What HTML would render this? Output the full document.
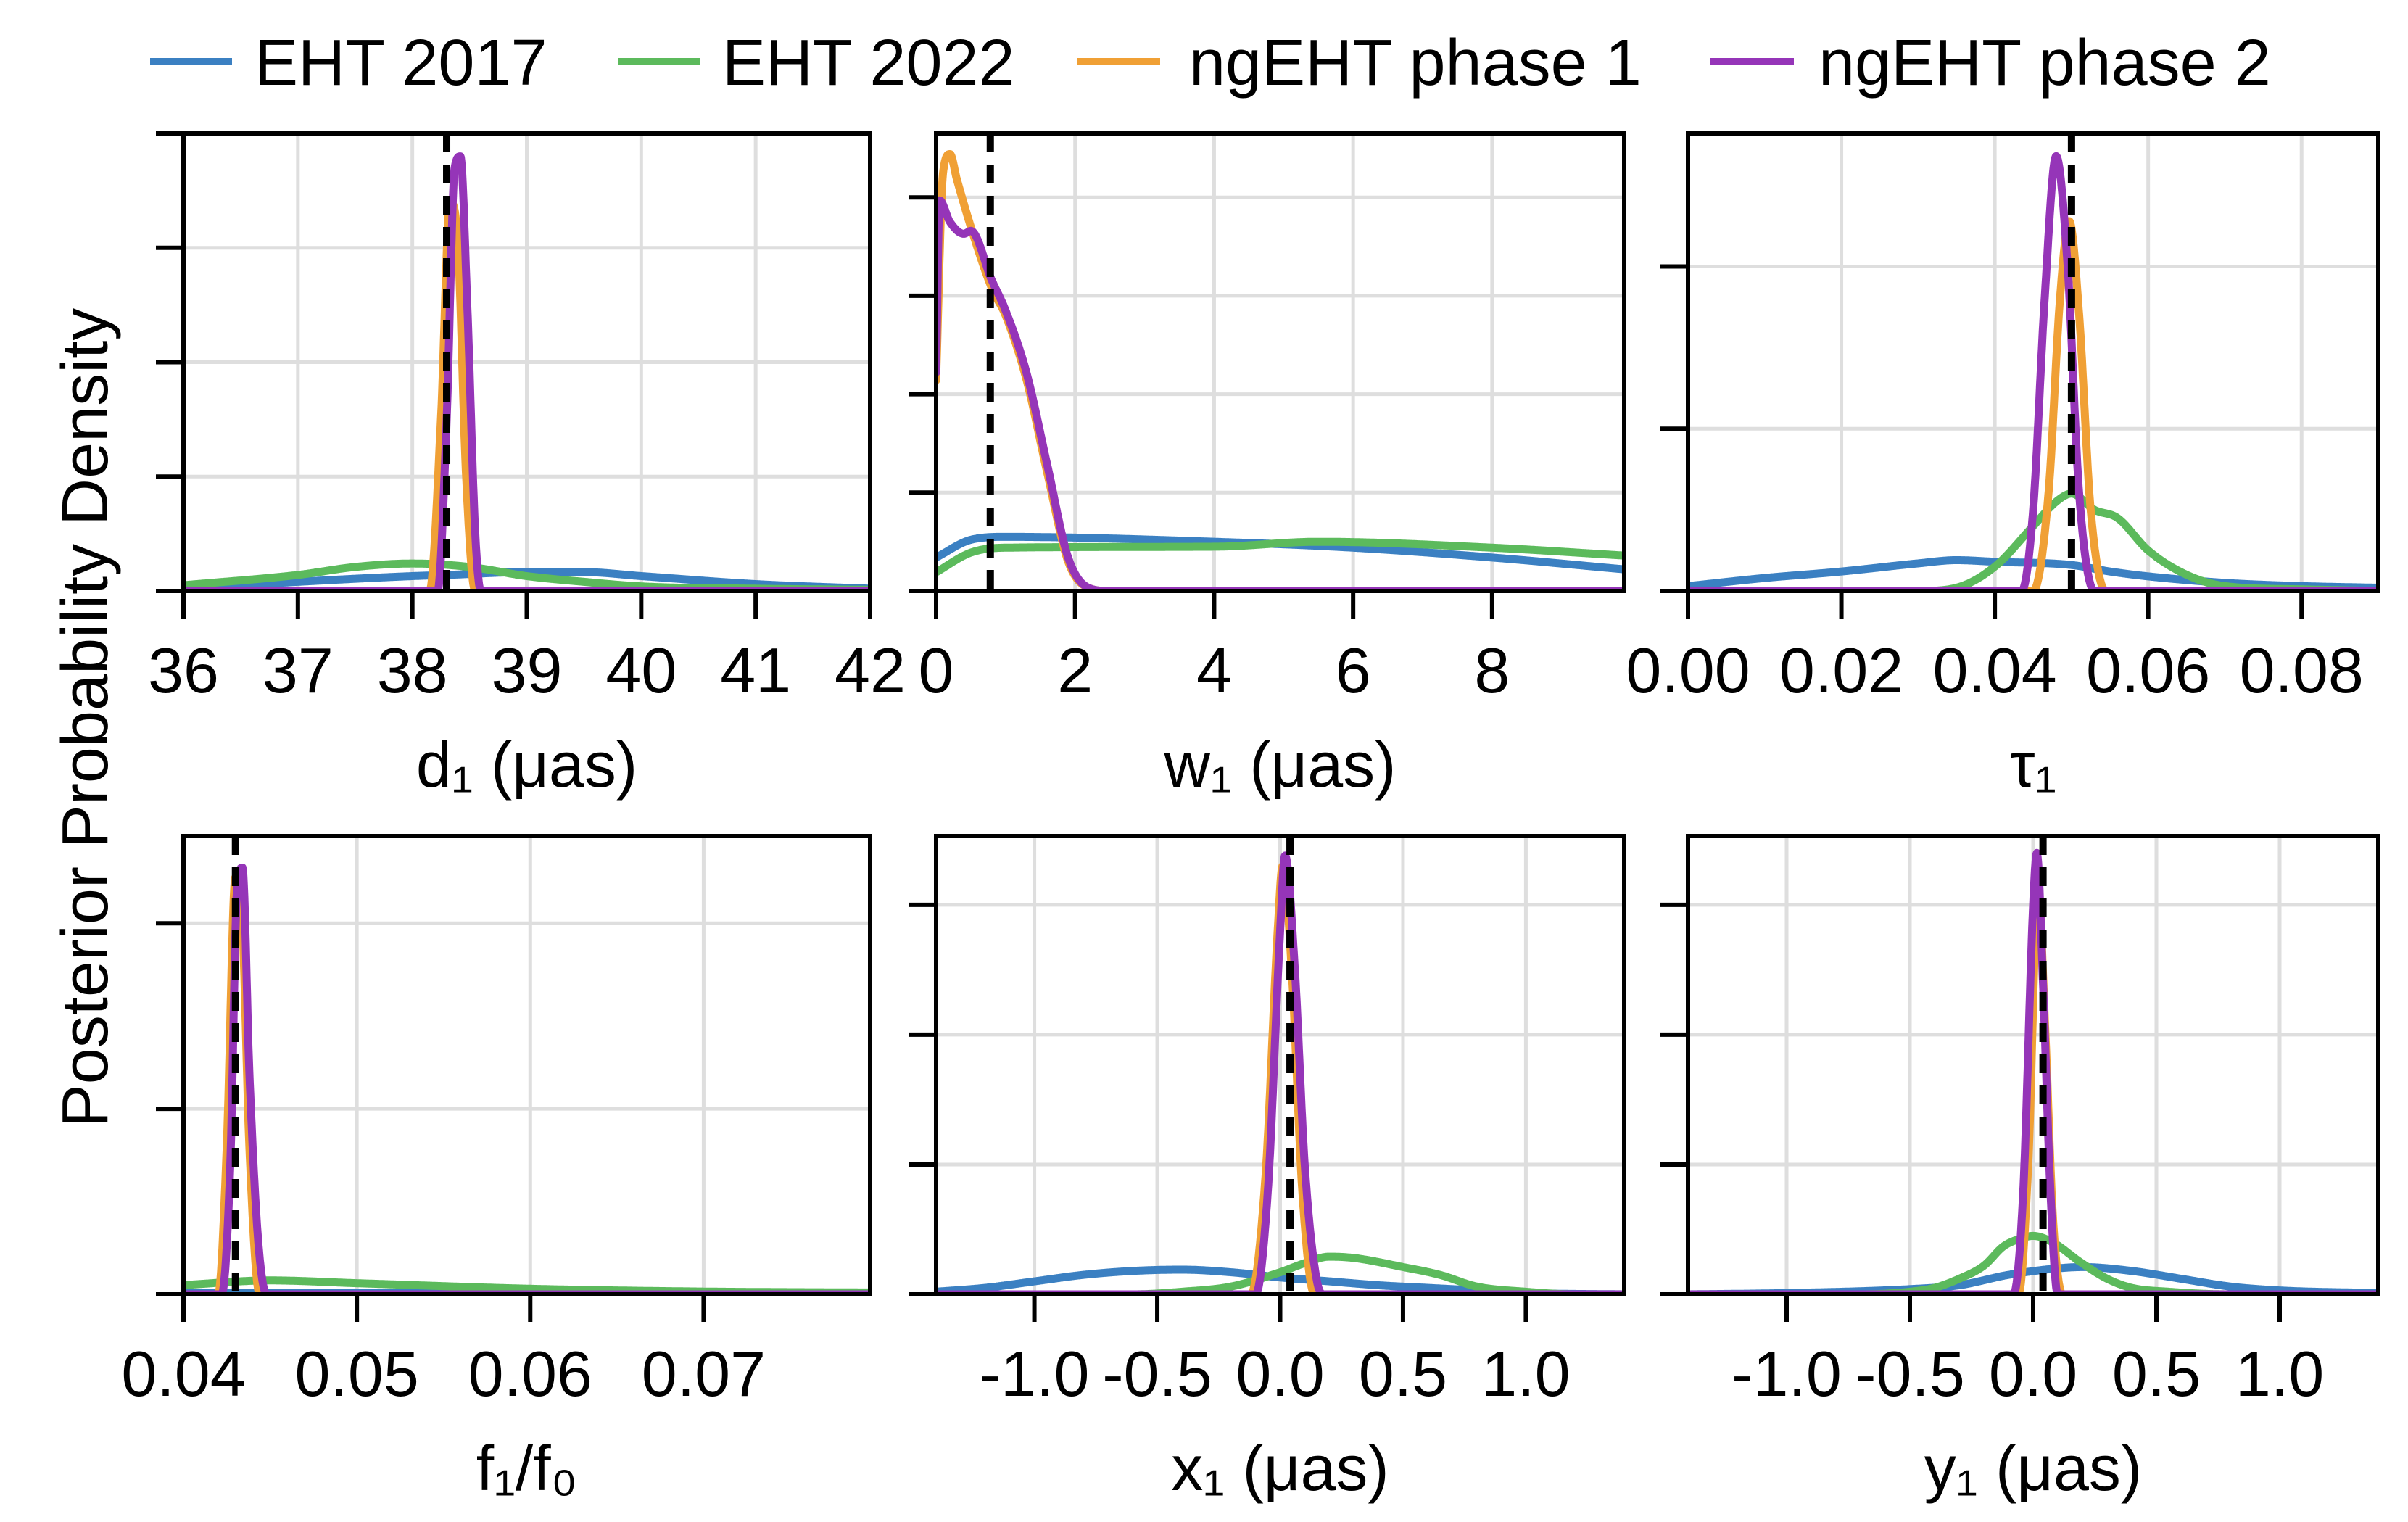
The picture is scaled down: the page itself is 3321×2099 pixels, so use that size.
<!DOCTYPE html>
<html><head><meta charset="utf-8"><style>
html,body{margin:0;padding:0;background:#fff;}
svg{display:block;font-family:"Liberation Sans",sans-serif;}
</style></head><body>
<svg id="fig" width="3321" height="2099" viewBox="0 0 3321 2099" xmlns="http://www.w3.org/2000/svg">
<g id="legend" font-size="90">
 <g><line x1="207" y1="85" x2="320" y2="85" stroke="#3b80c2" stroke-width="10"/><text x="351" y="117">EHT 2017</text></g>
 <g><line x1="852" y1="85" x2="965" y2="85" stroke="#5cba5c" stroke-width="10"/><text x="996" y="117">EHT 2022</text></g>
 <g><line x1="1486" y1="85" x2="1600" y2="85" stroke="#f0a035" stroke-width="10"/><text x="1640" y="117">ngEHT phase 1</text></g>
 <g><line x1="2359" y1="85" x2="2474" y2="85" stroke="#9535b8" stroke-width="10"/><text x="2508" y="117">ngEHT phase 2</text></g>
</g>
<text font-size="90" text-anchor="middle" transform="translate(148,990) rotate(-90)">Posterior Probability Density</text>
</svg>
<script>
// ---- Panel data (x values, density in tick units) ----
const p1BlueX=[36,37,38,38.3,39,39.5,40,41,42];
const p1BlueY=[0.02,0.08,0.13,0.14,0.165,0.165,0.13,0.06,0.02];
const p1GreenX=[36,37,37.5,38,38.5,39,39.5,40,41,42];
const p1GreenY=[0.05,0.14,0.21,0.24,0.21,0.13,0.08,0.04,0.02,0.01];
const p1OrangeX=[36,38.15,38.25,38.33,38.4,38.47,38.55,42];
const p1OrangeY=[0,0,1.5,3.4,3.0,1.0,0,0];
const p1PurpleX=[36,38.22,38.3,38.37,38.42,38.48,38.55,38.6,42];
const p1PurpleY=[0,0,1.5,3.7,3.8,2.5,0.5,0,0];

const p2BlueX=[0,0.5,1,4,6,8,9.9];
const p2BlueY=[0.34,0.52,0.55,0.5,0.44,0.34,0.22];
const p2GreenX=[0,0.5,1,4,5.5,8,9.9];
const p2GreenY=[0.19,0.39,0.44,0.45,0.5,0.44,0.36];
const p2OrangeX=[0,0.1,0.2,0.3,0.5,0.8,1.0,1.3,1.6,1.9,2.2,2.5,9.9];
const p2OrangeY=[2.14,4.25,4.44,4.18,3.7,3.08,2.8,2.15,1.2,0.3,0.03,0,0];
const p2PurpleX=[0,0.05,0.2,0.4,0.5,0.8,1.0,1.3,1.6,1.9,2.2,2.5,9.9];
const p2PurpleY=[2.22,3.97,3.75,3.63,3.66,3.16,2.85,2.22,1.28,0.34,0.03,0,0];

const p3BlueX=[0,0.01,0.02,0.03,0.035,0.04,0.05,0.055,0.06,0.07,0.08,0.09];
const p3BlueY=[0.03,0.08,0.12,0.17,0.19,0.18,0.16,0.12,0.09,0.05,0.03,0.02];
const p3GreenX=[0,0.03,0.035,0.04,0.045,0.048,0.05,0.053,0.056,0.06,0.065,0.07,0.08,0.09];
const p3GreenY=[0,0,0.02,0.15,0.4,0.55,0.6,0.5,0.45,0.25,0.1,0.03,0.01,0];
const p3OrangeX=[0,0.045,0.047,0.0485,0.0497,0.051,0.0525,0.0545,0.09];
const p3OrangeY=[0,0,0.6,1.8,2.28,1.7,0.5,0,0];
const p3PurpleX=[0,0.0435,0.045,0.0465,0.048,0.0495,0.051,0.053,0.09];
const p3PurpleY=[0,0,0.5,1.8,2.68,2.0,0.6,0,0];

const p4BlueX=[0.04,0.06,0.0796];
const p4BlueY=[0.01,0.005,0.003];
const p4GreenX=[0.04,0.045,0.05,0.06,0.07,0.0796];
const p4GreenY=[0.05,0.075,0.06,0.03,0.015,0.01];
const p4OrangeX=[0.04,0.042,0.0425,0.043,0.0434,0.0438,0.0444,0.0796];
const p4OrangeY=[0,0,0.8,2.25,2.0,0.8,0,0];
const p4PurpleX=[0.04,0.0422,0.0427,0.0431,0.0434,0.0438,0.0443,0.0448,0.0796];
const p4PurpleY=[0,0,0.7,2.2,2.3,1.2,0.3,0,0];

const p5BlueX=[-1.4,-1.2,-1.0,-0.8,-0.6,-0.4,-0.2,0,0.2,0.4,0.6,0.8,1.0,1.4];
const p5BlueY=[0.02,0.05,0.1,0.15,0.18,0.19,0.17,0.13,0.1,0.07,0.05,0.03,0.01,0];
const p5GreenX=[-1.4,-0.6,-0.4,-0.2,0,0.1,0.2,0.3,0.5,0.65,0.8,1.0,1.2,1.4];
const p5GreenY=[0,0,0.02,0.06,0.17,0.24,0.29,0.28,0.21,0.15,0.06,0.02,0,0];
const p5OrangeX=[-1.4,-0.12,-0.06,-0.01,0.01,0.05,0.09,0.14,1.4];
const p5OrangeY=[0,0,0.9,2.8,3.3,2.4,0.8,0,0];
const p5PurpleX=[-1.4,-0.1,-0.05,0,0.02,0.06,0.1,0.15,0.18,1.4];
const p5PurpleY=[0,0,0.8,2.8,3.38,2.5,1.0,0.1,0,0];

const p6BlueX=[-1.4,-1.0,-0.5,-0.3,-0.1,0.1,0.2,0.4,0.6,0.8,1.0,1.4];
const p6BlueY=[0,0.01,0.04,0.07,0.15,0.2,0.21,0.18,0.12,0.06,0.03,0.01];
const p6GreenX=[-1.4,-0.7,-0.5,-0.4,-0.3,-0.2,-0.12,-0.05,0,0.08,0.19,0.3,0.4,0.55,0.8,1.4];
const p6GreenY=[0,0,0.02,0.05,0.12,0.22,0.37,0.43,0.45,0.4,0.25,0.12,0.05,0.02,0,0];
const p6OrangeX=[-1.4,-0.06,-0.02,0.02,0.05,0.08,0.12,1.4];
const p6OrangeY=[0,0,1.0,3.1,2.0,0.6,0,0];
const p6PurpleX=[-1.4,-0.08,-0.04,0,0.015,0.04,0.07,0.1,1.4];
const p6PurpleY=[0,0,0.8,3.0,3.4,2.4,0.8,0,0];

const xTicks1=[36,37,38,39,40,41,42];
const xTickLabels1=["36","37","38","39","40","41","42"];
const xTicks2=[0,2,4,6,8];
const xTickLabels2=["0","2","4","6","8"];
const xTicks3=[0,0.02,0.04,0.06,0.08];
const xTickLabels3=["0.00","0.02","0.04","0.06","0.08"];
const xTicks4=[0.04,0.05,0.06,0.07];
const xTickLabels4=["0.04","0.05","0.06","0.07"];
const xTicks5=[-1,-0.5,0,0.5,1];
const xTickLabels5=["-1.0","-0.5","0.0","0.5","1.0"];
const truthValues=[38.3,0.78,0.05,0.043,0.04,0.04];

const NS="http://www.w3.org/2000/svg";
const svg=document.getElementById('fig');
const COLORS={blue:"#3b80c2",green:"#5cba5c",orange:"#f0a035",purple:"#9535b8"};

const panels=[
 {id:"d1",x0:253,x1:1200,y0:184,y1:815,xmin:36,xmax:42,ymax:4.0,yt:[1,2,3,4],ticks:xTicks1,labels:xTickLabels1,title:"d₁ (μas)",
  s:[[p1BlueX,p1BlueY,'blue'],[p1GreenX,p1GreenY,'green'],[p1OrangeX,p1OrangeY,'orange'],[p1PurpleX,p1PurpleY,'purple']]},
 {id:"w1",x0:1291,x1:2240,y0:184,y1:815,xmin:0,xmax:9.9,ymax:4.65,yt:[1,2,3,4],ticks:xTicks2,labels:xTickLabels2,title:"w₁ (μas)",
  s:[[p2BlueX,p2BlueY,'blue'],[p2GreenX,p2GreenY,'green'],[p2OrangeX,p2OrangeY,'orange'],[p2PurpleX,p2PurpleY,'purple']]},
 {id:"tau1",x0:2328,x1:3280,y0:184,y1:815,xmin:0,xmax:0.09,ymax:2.82,yt:[1,2],ticks:xTicks3,labels:xTickLabels3,title:"τ₁",
  s:[[p3BlueX,p3BlueY,'blue'],[p3GreenX,p3GreenY,'green'],[p3OrangeX,p3OrangeY,'orange'],[p3PurpleX,p3PurpleY,'purple']]},
 {id:"f1f0",x0:253,x1:1200,y0:1153,y1:1785,xmin:0.04,xmax:0.0796,ymax:2.47,yt:[1,2],ticks:xTicks4,labels:xTickLabels4,title:"f₁/f₀",
  s:[[p4BlueX,p4BlueY,'blue'],[p4GreenX,p4GreenY,'green'],[p4OrangeX,p4OrangeY,'orange'],[p4PurpleX,p4PurpleY,'purple']]},
 {id:"x1",x0:1291,x1:2240,y0:1153,y1:1785,xmin:-1.4,xmax:1.4,ymax:3.53,yt:[1,2,3],ticks:xTicks5,labels:xTickLabels5,title:"x₁ (μas)",
  s:[[p5BlueX,p5BlueY,'blue'],[p5GreenX,p5GreenY,'green'],[p5OrangeX,p5OrangeY,'orange'],[p5PurpleX,p5PurpleY,'purple']]},
 {id:"y1",x0:2328,x1:3280,y0:1153,y1:1785,xmin:-1.4,xmax:1.4,ymax:3.53,yt:[1,2,3],ticks:xTicks5,labels:xTickLabels5,title:"y₁ (μas)",
  s:[[p6BlueX,p6BlueY,'blue'],[p6GreenX,p6GreenY,'green'],[p6OrangeX,p6OrangeY,'orange'],[p6PurpleX,p6PurpleY,'purple']]}
];

function mk(tag,attrs,parent){const e=document.createElementNS(NS,tag);for(const k in attrs)e.setAttribute(k,attrs[k]);parent.appendChild(e);return e;}
// monotone cubic (Fritsch-Carlson) interpolation in data space
function monotone(xs,ys){
 const n=xs.length,d=[],m=[];
 for(let i=0;i<n-1;i++)d.push((ys[i+1]-ys[i])/(xs[i+1]-xs[i]));
 m[0]=d[0];m[n-1]=d[n-2];
 for(let i=1;i<n-1;i++)m[i]=(d[i-1]*d[i]<=0)?0:(d[i-1]+d[i])/2;
 for(let i=0;i<n-1;i++){
  if(d[i]===0){m[i]=0;m[i+1]=0;continue;}
  const a=m[i]/d[i],b=m[i+1]/d[i],s=a*a+b*b;
  if(s>9){const t=3/Math.sqrt(s);m[i]=t*a*d[i];m[i+1]=t*b*d[i];}
 }
 return function(x){
  let i=0;while(i<n-2&&x>xs[i+1])i++;
  const h=xs[i+1]-xs[i],t=(x-xs[i])/h,t2=t*t,t3=t2*t;
  return (2*t3-3*t2+1)*ys[i]+(t3-2*t2+t)*h*m[i]+(-2*t3+3*t2)*ys[i+1]+(t3-t2)*h*m[i+1];
 };
}

panels.forEach((p,pi)=>{
 const sx=v=>p.x0+(v-p.xmin)/(p.xmax-p.xmin)*(p.x1-p.x0);
 const sy=v=>p.y1-v/p.ymax*(p.y1-p.y0);
 const g=mk('g',{},svg);
 
 
 const cp=mk('clipPath',{id:'clip'+pi},g);
 mk('rect',{x:p.x0,y:p.y0,width:p.x1-p.x0,height:p.y1-p.y0-3},cp);
 const grid=mk('g',{stroke:'#dedede','stroke-width':5},g);
 
 
 p.ticks.forEach(t=>mk('line',{x1:sx(t),x2:sx(t),y1:p.y0,y2:p.y1},grid));
 p.yt.forEach(t=>mk('line',{x1:p.x0,x2:p.x1,y1:sy(t),y2:sy(t)},grid));
 const sg=mk('g',{'clip-path':'url(#clip'+pi+')',fill:'none','stroke-linejoin':'round','stroke-linecap':'round'},g);
 p.s.forEach(([xs,ys,c])=>{
  const f=monotone(xs,ys);
  const N=1500;let d="";
  for(let k=0;k<=N;k++){
   const x=xs[0]+(xs[xs.length-1]-xs[0])*k/N;
   const y=Math.max(0,f(x));
   d+=(k?"L":"M")+sx(x).toFixed(1)+","+sy(y).toFixed(1);
  }
  const path=mk('path',{d:d,stroke:COLORS[c],'stroke-width':11},sg);
  
  
 });
 const tl=mk('line',{x1:sx(truthValues[pi]),x2:sx(truthValues[pi]),y1:p.y0,y2:p.y1,stroke:'#000','stroke-width':10,'stroke-dasharray':'26,17'},g);
 
 
 const fr=mk('rect',{x:p.x0,y:p.y0,width:p.x1-p.x0,height:p.y1-p.y0,fill:'none',stroke:'#000','stroke-width':6},g);
 
 
 const tk=mk('g',{stroke:'#000','stroke-width':6},g);
 [0].concat(p.yt).forEach(t=>mk('line',{x1:p.x0-38,x2:p.x0,y1:sy(t),y2:sy(t)},tk));
 p.ticks.forEach(t=>mk('line',{x1:sx(t),x2:sx(t),y1:p.y1,y2:p.y1+38},tk));
 p.ticks.forEach((t,i)=>{
  const tx=mk('text',{x:sx(t),y:p.y1+140,'font-size':88,'text-anchor':'middle'},g);
  
  
  tx.textContent=p.labels[i];
 });
 const xt=mk('text',{x:(p.x0+p.x1)/2,y:p.y1+270,'font-size':88,'text-anchor':'middle'},g);
 
 
 xt.textContent=p.title;
});
</script>
</body></html>
